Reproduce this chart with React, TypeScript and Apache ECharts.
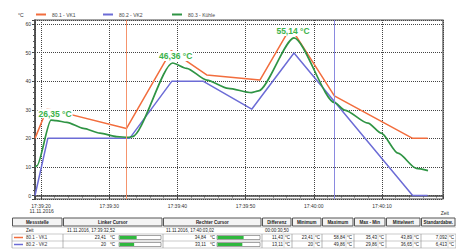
import React, { useEffect, useRef } from "react";
import * as echarts from "echarts";

const FONT = "'Liberation Sans', Arial, sans-serif";

// time in seconds after 17:39:00
const seriesNames = ["80.1 - VK1", "80.2 - VK2", "80.3 - Kühle"];
const seriesColors = ["#f26d3d", "#6c6cd6", "#2f9444"];

const vk1: [number, number][] = [
  [19.12, 20], [20.9, 30.4], [32.52, 23.41], [39.1, 50.7], [44.3, 42.2],
  [52.1, 40.4], [56.6, 58.84], [63.02, 34.84], [74.5, 20], [76.7, 20],
];
const vk2: [number, number][] = [
  [19.12, 0], [21.0, 20], [33.0, 20], [39.2, 40], [43.75, 40],
  [50.9, 30.2], [57.1, 49.86], [74.5, 0], [76.7, 0],
];
const kuehle: [number, number][] = [
  [19.12, 10], [19.4, 10.4], [21.47, 26.35], [22.2, 26.2], [23.8, 25.6],
  [26.2, 23.5], [28.65, 21.8], [31.1, 20.6], [32.8, 20.35], [33.4, 20.6],
  [39.31, 46.36], [41.36, 44.5], [44.3, 40.4], [47.46, 37.5], [50.84, 36.0],
  [51.9, 36.6], [57.1, 55.14], [63.06, 32.5], [64.53, 29.9], [67.95, 25.3],
  [69.9, 21.8], [72.35, 14.8], [75.03, 9.5], [76.75, 8.7],
];
const labelledPeakTimes = [21.47, 39.31, 57.1];
const cursorTimes = [32.52, 63.02];
const xRange = [19.12, 78.95];
const yRange = [-1.22, 61.4];
const dateLabel = "11.11.2016";

// table
const tableHeaders = [
  "Messstelle", "Linker Cursor", "Rechter Cursor", "Differenz", "Minimum",
  "Maximum", "Max - Min", "Mittelwert", "Standardabw.",
];
const timeRow = ["Zeit", "11.11.2016, 17:39:32,52", "11.11.2016, 17:40:03,02", "00:00:30,50"];
const vk1Row = ["23,41", "34,84", "11,43", "23,41", "58,84", "35,43", "43,89", "7,092"];
const vk2Row = ["20", "33,11", "13,11", "20", "49,86", "29,86", "36,65", "6,413"];
const vk1CursorValues = [23.41, 34.84];
const vk2CursorValues = [20, 33.11];
const barMax = 56;

function fmtTime(sec: number): string {
  const total = 17 * 3600 + 39 * 60 + Math.round(sec);
  const h = Math.floor(total / 3600);
  const m = Math.floor((total % 3600) / 60);
  const s = total % 60;
  const p = (n: number) => (n < 10 ? "0" + n : "" + n);
  return `${p(h)}:${p(m)}:${p(s)}`;
}

function buildTable(): any[] {
  const els: any[] = [];
  const cols = [12, 63, 163, 262, 292, 322, 354, 386, 421, 456];
  const fs = 4.5;
  const txt = (x: number, y: number, text: string, align = "left", bold = false, fill = "#222") => ({
    type: "text",
    x,
    y,
    silent: true,
    style: {
      text,
      fontSize: fs,
      fontFamily: FONT,
      fontWeight: bold ? "bold" : "normal",
      fill,
      align,
      verticalAlign: "middle",
    },
  });
  for (let i = 0; i < tableHeaders.length; i++) {
    const x0 = cols[i] + 0.5;
    const x1 = Math.min(cols[i + 1] - 1, 455.5);
    els.push({
      type: "rect",
      silent: true,
      shape: { x: x0, y: 218, width: x1 - x0, height: 8 },
      style: { fill: "#f4f4f4", stroke: "#555", lineWidth: 1 },
    });
    els.push(txt((x0 + x1) / 2, 222, tableHeaders[i], "center", true));
  }
  [227, 234, 241, 248].forEach((y) => {
    els.push({
      type: "line",
      silent: true,
      shape: { x1: 12, y1: y, x2: 456, y2: y },
      style: { stroke: "#aaa", lineWidth: 0.6 },
    });
  });
  els.push(txt(26, 230.5, timeRow[0]));
  els.push(txt(67, 230.5, timeRow[1]));
  els.push(txt(166, 230.5, timeRow[2]));
  els.push(txt(265, 230.5, timeRow[3]));

  const rows = [
    { y: 237.5, name: seriesNames[0], color: seriesColors[0], vals: vk1Row, cur: vk1CursorValues },
    { y: 244.5, name: seriesNames[1], color: seriesColors[1], vals: vk2Row, cur: vk2CursorValues },
  ];
  rows.forEach((r) => {
    for (let i = 0; i < cols.length; i++) {
      els.push({
        type: "line",
        silent: true,
        shape: { x1: cols[i], y1: r.y - 3.5, x2: cols[i], y2: r.y + 3.5 },
        style: { stroke: "#888", lineWidth: 0.6 },
      });
    }
    els.push({
      type: "line",
      silent: true,
      shape: { x1: 14, y1: r.y, x2: 23, y2: r.y },
      style: { stroke: r.color, lineWidth: 1.5 },
    });
    els.push(txt(26, r.y, r.name, "left", false, "#333"));
    const curCols = [
      { numX: 106, unitX: 110, barX: 119, barW: 42 },
      { numX: 206, unitX: 210, barX: 217, barW: 43 },
    ];
    curCols.forEach((c, k) => {
      els.push(txt(c.numX, r.y, r.vals[k], "right"));
      els.push(txt(c.unitX, r.y, "°C"));
      els.push({
        type: "rect",
        silent: true,
        shape: { x: c.barX, y: r.y - 2, width: c.barW, height: 4 },
        style: { fill: "#fff", stroke: "#666", lineWidth: 0.6 },
      });
      els.push({
        type: "rect",
        silent: true,
        shape: { x: c.barX + 0.5, y: r.y - 1.5, width: (c.barW - 1) * Math.min(1, r.cur[k] / barMax), height: 3 },
        style: { fill: "#2fb83e" },
      });
    });
    for (let i = 3; i < 9; i++) {
      const end = Math.min(cols[i + 1], 456);
      els.push(txt(end - 9, r.y, r.vals[i - 1], "right"));
      els.push(txt(end - 7, r.y, "°C"));
      els.push({
        type: "line",
        silent: true,
        shape: { x1: end - 8, y1: r.y - 3.5, x2: end - 8, y2: r.y + 3.5 },
        style: { stroke: "#bbb", lineWidth: 0.5 },
      });
    }
  });
  return els;
}

export default function App() {
  const ref = useRef<HTMLDivElement>(null);
  useEffect(() => {
    document.body.style.margin = "0";
    if (!ref.current) return;
    const chart = echarts.init(ref.current, undefined, { renderer: "svg" });
    const legendLefts = [36, 103, 172];
    const labelOffsets = [[4, 0], [3, 0], [-1, 0]];
    const peakPoints = kuehle
      .filter(([t]) => labelledPeakTimes.includes(t))
      .map(([t, v], i) => ({ coord: [t, v], value: v, label: { offset: labelOffsets[i] } }));
    const option: any = {
      animation: false,
      backgroundColor: "#fff",
      textStyle: { fontFamily: FONT },
      grid: {
        left: 35,
        right: 13,
        top: 20,
        bottom: 51,
        show: true,
        borderColor: "#4a4a4a",
        borderWidth: 1.2,
      },
      legend: seriesNames.map((name, i) => ({
        data: [name],
        left: legendLefts[i],
        top: 12,
        icon: "rect",
        itemWidth: 10,
        itemHeight: 2,
        selectedMode: false,
        padding: 0,
        textStyle: { fontSize: 5, color: "#444", fontFamily: FONT, padding: [0, 0, 0, 1] },
      })),
      xAxis: {
        type: "value",
        min: xRange[0],
        max: xRange[1],
        splitNumber: 6,
        axisLine: { show: true, lineStyle: { color: "#444", width: 1.5 } },
        axisTick: { show: true, length: 3, lineStyle: { color: "#444" } },
        minorTick: { show: true, splitNumber: 5, length: 2, lineStyle: { color: "#555" } },
        splitLine: { show: true, lineStyle: { type: [1, 1], color: "#444", width: 1 } },
        axisLabel: {
          fontSize: 5,
          color: "#333",
          margin: 4,
          lineHeight: 5,
          showMinLabel: false,
          showMaxLabel: false,
          formatter: (v: number) => {
            const s = fmtTime(v);
            return Math.abs(v - 20) < 0.01 ? s + "\n " + dateLabel : s;
          },
        },
      },
      yAxis: {
        type: "value",
        min: yRange[0],
        max: yRange[1],
        splitNumber: 6,
        axisLine: { show: true, lineStyle: { color: "#444", width: 1.5 } },
        axisTick: { show: true, length: 3, lineStyle: { color: "#444" } },
        minorTick: { show: true, splitNumber: 5, length: 2, lineStyle: { color: "#555" } },
        splitLine: { show: true, lineStyle: { type: [1, 1], color: "#444", width: 1 } },
        axisLabel: {
          fontSize: 5,
          color: "#333",
          margin: 4,
          showMinLabel: false,
          showMaxLabel: false,
        },
      },
      series: [
        {
          name: seriesNames[0],
          type: "line",
          data: vk1,
          symbol: "none",
          color: seriesColors[0],
          lineStyle: { width: 1.5 },
          z: 2,
          markLine: {
            silent: true,
            symbol: "none",
            label: { show: false },
            lineStyle: { color: "#f5946c", width: 1, type: "solid" },
            data: [{ xAxis: cursorTimes[0] }],
          },
        },
        {
          name: seriesNames[1],
          type: "line",
          data: vk2,
          symbol: "none",
          color: seriesColors[1],
          lineStyle: { width: 1.5 },
          z: 2,
          markLine: {
            silent: true,
            symbol: "none",
            label: { show: false },
            lineStyle: { color: "#8a8ae0", width: 1, type: "solid" },
            data: [{ xAxis: cursorTimes[1] }],
          },
        },
        {
          name: seriesNames[2],
          type: "line",
          data: kuehle,
          symbol: "none",
          smooth: 0.25,
          smoothMonotone: "x",
          color: seriesColors[2],
          lineStyle: { width: 1.7 },
          z: 3,
          markPoint: {
            silent: true,
            symbol: "circle",
            symbolSize: 0,
            z: 10,
            itemStyle: { color: "transparent" },
            label: {
              show: true,
              position: "top",
              distance: 2,
              formatter: (p: any) => Number(p.value).toFixed(2).replace(".", ",") + " °C",
              color: "#3bb24a",
              fontSize: 8.5,
              fontWeight: "bold",
              fontFamily: FONT,
              backgroundColor: "#fff",
              padding: [1, 1, 0, 1],
            },
            data: peakPoints,
          },
        },
      ],
      graphic: [
        {
          type: "text",
          x: 18,
          y: 15,
          silent: true,
          style: { text: "°C", fontSize: 5, fill: "#333", fontFamily: FONT, verticalAlign: "middle" },
        },
        {
          type: "text",
          x: 449,
          y: 213,
          silent: true,
          style: { text: "Zeit", fontSize: 5, fill: "#333", fontFamily: FONT, align: "right", verticalAlign: "middle" },
        },
        ...buildTable(),
      ],
    };
    chart.setOption(option);
    return () => chart.dispose();
  }, []);
  return (
    <div
      ref={ref}
      style={{ width: 456, height: 250, position: "absolute", left: 0, top: 0, background: "#fff" }}
    />
  );
}
